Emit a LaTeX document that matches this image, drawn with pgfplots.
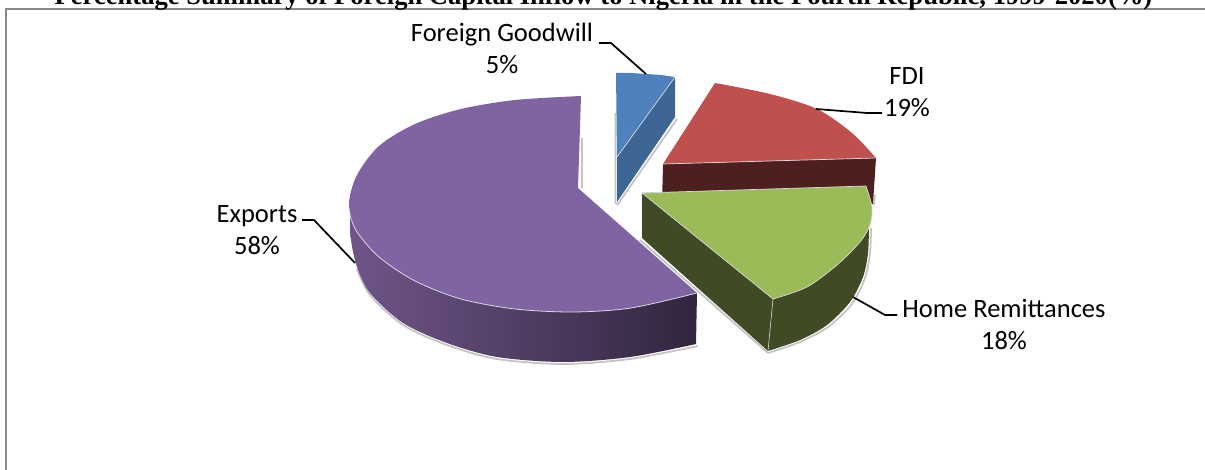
\documentclass[border=0pt]{standalone}
\usepackage{pgfplots}
\usepackage{fontspec}
\pgfplotsset{compat=1.18}
\setmainfont{Carlito}
\newfontfamily\titlefont{Liberation Serif}
\definecolor{frameGray}{HTML}{898989}
\definecolor{rimLight}{HTML}{D8D8E0}
\definecolor{shadowGray}{HTML}{C4C4C4}
\definecolor{expTop}{HTML}{8064A2}
\definecolor{expL}{HTML}{6F5589}
\definecolor{expR}{HTML}{32253E}
\definecolor{fdiTop}{HTML}{C0504D}
\definecolor{fdiSide}{HTML}{4D1F1E}
\definecolor{remTop}{HTML}{9BBB59}
\definecolor{remSide}{HTML}{404A24}
\definecolor{fgTop}{HTML}{4F81BD}
\definecolor{fgSide}{HTML}{3E6695}
\tikzset{
  leader/.style={black, line width=1.7pt},
  shadow/.style={shadowGray, line width=1.8pt},
  lbl/.style={font=\fontsize{26.5}{32}\selectfont, align=center, inner sep=0pt, anchor=center},
}
\begin{document}
\begin{tikzpicture}
\begin{axis}[
  scale only axis, width=1205pt, height=470pt,
  xmin=0, xmax=1205, ymin=0, ymax=470, y dir=reverse,
  hide axis, clip=true, no markers,
]
% white page margin, then the chart frame
\addplot[white, line width=1pt] coordinates {(0.5,0) (0.5,470)};
\addplot[frameGray, line width=2.6pt] coordinates {(6,470) (6,9) (1205,9)};

% drop shadows along the lower edges
\addplot[shadow, smooth] coordinates {(357,269) (370,295) (403,325) (447,345) (497,359) (563,364) (630,359) (698,346)};
\addplot[shadow] coordinates {(640,240) (768,353)};
\addplot[shadow, smooth] coordinates {(768,353) (800,342) (828,327) (852,304) (865,278) (870,253) (871,228)};
\addplot[shadow] coordinates {(615.5,113) (615.5,203) (618,204) (677,119)};
\addplot[shadow] coordinates {(582,138) (582,188)};
\addplot[shadow] coordinates {(875,195) (874,205)};

% Exports slice: side wall, then top face
\addplot[draw=none, left color=expL, right color=expR, smooth] coordinates {
 (350,215) (351,240) (357,267) (370,293) (403,323) (447,343) (497,357) (563,362) (630,357) (696,344)}
 -- (axis cs:697,293) -- cycle;
\addplot[fill=expTop, draw=none, smooth] coordinates {
 (581,96) (515,100) (461,109) (415,124) (379,146) (357,175) (349,204) (357,232) (379,257) (415,281) (461,299)
 (515,309) (573,312) (631,308) (697,293)} -- (axis cs:578,188) -- cycle;
\addplot[rimLight, line width=0.8pt, smooth] coordinates {
 (350,215) (357,232) (379,257) (415,281) (461,299) (515,309) (573,312) (631,308) (697,293)};

% Foreign Goodwill slice
\addplot[fill=fgSide, draw=none] coordinates {(675,77) (675,117) (617,202) (617,157)} --cycle;
\addplot[fill=fgTop, draw=none] coordinates {(616,73) (631,73) (646,74) (661,75) (675,77) (617,157)} --cycle;
\addplot[rimLight, line width=0.7pt] coordinates {(675,77) (617,157)};

% FDI slice
\addplot[fill=fdiSide, draw=none] coordinates {(663,164) (876,158) (873,204) (662,205)} --cycle;
\addplot[fill=fdiTop, draw=none, smooth] coordinates {
 (715,83) (770,94) (817,109) (852,133) (876,158)} -- (axis cs:663,164) -- cycle;
\addplot[rimLight, line width=0.7pt] coordinates {(663,164) (876,158)};

% Home Remittances slice
\addplot[fill=remSide, draw=none, smooth] coordinates {
 (869,225) (868,253) (863,277) (850,302) (827,325) (800,340) (768,351)}
 -- (axis cs:642,238) -- (axis cs:642,193) -- (axis cs:866,186) -- cycle;
\addplot[rimLight, line width=0.6pt] coordinates {(773,299) (768,351)};
\addplot[fill=remTop, draw=none, smooth] coordinates {
 (866,186) (872,207) (870,225) (860,242) (837,265) (807,287) (773,299)} -- (axis cs:642,193) -- cycle;
\addplot[rimLight, line width=0.7pt, smooth] coordinates {
 (866,186) (872,207) (870,225) (860,242) (837,265) (807,287) (773,299)};
\addplot[rimLight, line width=0.7pt] coordinates {(773,299) (642,193) (866,186)};

% leader lines
\addplot[leader] coordinates {(599,43) (611,43) (646,74)};
\addplot[leader] coordinates {(816,109) (867,113) (882,113)};
\addplot[leader] coordinates {(853,297) (885,315) (897,315)};
\addplot[leader] coordinates {(302,220) (314,220) (355,263)};

% category labels
\node[lbl] at (axis cs:502,48) {Foreign Goodwill\\5\%};
\node[lbl] at (axis cs:907,92) {FDI\\19\%};
\node[lbl] at (axis cs:257,230) {Exports\\58\%};
\node[lbl] at (axis cs:1004,324) {Home Remittances\\18\%};

% chart title, cut off by the top edge of the page
\node[font=\titlefont\bfseries\fontsize{26.6}{30}\selectfont, anchor=base, inner sep=0pt] at (axis cs:603.5,4.5)
 {Percentage Summary of Foreign Capital Inflow to Nigeria in the Fourth Republic, 1999-2020(\%)};
\end{axis}
\end{tikzpicture}
\end{document}
